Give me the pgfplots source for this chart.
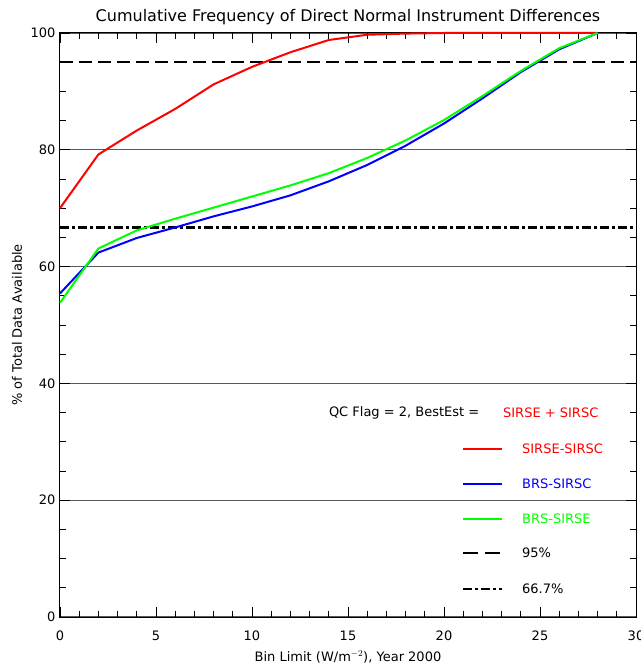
\documentclass[border=0pt]{standalone}
\usepackage{pgfplots}
\pgfplotsset{compat=1.18}
\usepackage{fontspec}
\setmainfont{DejaVu Sans}
\definecolor{pred}{RGB}{255,0,0}
\definecolor{pblue}{RGB}{0,0,255}
\definecolor{pgreen}{RGB}{0,255,0}
\newcommand{\lf}{\fontsize{13}{15}\selectfont}
\begin{document}
\begin{tikzpicture}
\begin{axis}[
  at={(0,0)}, anchor=south west,
  width=576pt, height=584pt, scale only axis,
  xmin=0, xmax=30, ymin=0, ymax=100,
  xtick={0,5,...,30}, ytick={0,20,...,100},
  minor x tick num=4, minor y tick num=3,
  tick align=inside, major tick length=10pt, minor tick length=6pt,
  tick style={black, line width=0.8pt},
  axis line style={black, line width=1pt},
  ymajorgrids, major grid style={black!65, line width=1.2pt},
  /pgf/number format/assume math mode=true,
  ticklabel style={font=\lf},
  xticklabel style={yshift=-10pt},
  yticklabel style={xshift=-1pt},
  clip=false,
]
% reference lines
\addplot[black, line width=2.5pt, dash pattern=on 13pt off 6pt] coordinates {(0,95) (30,95)};
\addplot[black, line width=2.2pt, dash pattern=on 9pt off 3pt on 3pt off 3pt] coordinates {(0,66.7) (30,66.7)};
% SIRSE-SIRSC
\addplot[pred, line width=2pt, line join=round] coordinates {
(0,70.0) (2,79.2) (4,83.3) (6,87.0) (8,91.2) (10,94.2) (12,96.7) (14,98.8) (16,99.7) (18,99.9) (20,100) (22,100) (24,100) (26,100) (28,100)};
% BRS-SIRSC
\addplot[pblue, line width=2pt, line join=round] coordinates {
(0,55.4) (2,62.4) (4,64.9) (6,66.7) (8,68.6) (10,70.3) (12,72.2) (14,74.6) (16,77.4) (18,80.7) (20,84.5) (22,88.8) (24,93.3) (26,97.2) (28,100)};
% BRS-SIRSE
\addplot[pgreen, line width=2pt, line join=round] coordinates {
(0,53.8) (2,63.1) (4,66.2) (6,68.2) (8,70.1) (10,72.0) (12,73.9) (14,76.0) (16,78.6) (18,81.6) (20,85.1) (22,89.2) (24,93.5) (26,97.4) (28,100)};
% legend samples
\addplot[pred, line width=2pt] coordinates {(21,28.8) (23,28.8)};
\addplot[pblue, line width=2pt] coordinates {(21,22.8) (23,22.8)};
\addplot[pgreen, line width=2pt] coordinates {(21,16.8) (23,16.8)};
\addplot[black, line width=2.5pt, dash pattern=on 15pt off 7pt] coordinates {(21,11.0) (23,11.0)};
\addplot[black, line width=2.2pt, dash pattern=on 9pt off 3pt on 3pt off 3pt] coordinates {(21,4.8) (23,4.8)};
\node[anchor=west, font=\lf, inner sep=0pt] at (axis cs:14.0,35.0) {QC Flag = 2, BestEst =};
\node[anchor=west, font=\lf, inner sep=0pt, text=pred] at (axis cs:23.07,35.0) {SIRSE + SIRSC};
\node[anchor=west, font=\lf, inner sep=0pt, text=pred] at (axis cs:24.06,28.8) {SIRSE-SIRSC};
\node[anchor=west, font=\lf, inner sep=0pt, text=pblue] at (axis cs:24.06,22.8) {BRS-SIRSC};
\node[anchor=west, font=\lf, inner sep=0pt, text=pgreen] at (axis cs:24.06,16.8) {BRS-SIRSE};
\node[anchor=west, font=\lf, inner sep=0pt] at (axis cs:24.06,11.0) {95\%};
\node[anchor=west, font=\lf, inner sep=0pt] at (axis cs:24.06,4.8) {66.7\%};
% titles
\node[font=\fontsize{16}{19}\selectfont, yshift=16pt] at (rel axis cs:0.5,1) {Cumulative Frequency of Direct Normal Instrument Differences};
\node[font=\lf, yshift=-40pt] at (rel axis cs:0.5,0) {Bin Limit (W/m$^{-2}$), Year 2000};
\node[font=\lf, xshift=-43pt, rotate=90] at (rel axis cs:0,0.5) {\% of Total Data Available};
\end{axis}
\pgfresetboundingbox
\path[use as bounding box] (-60pt,-49pt) rectangle (580pt,617pt);
\end{tikzpicture}
\end{document}
